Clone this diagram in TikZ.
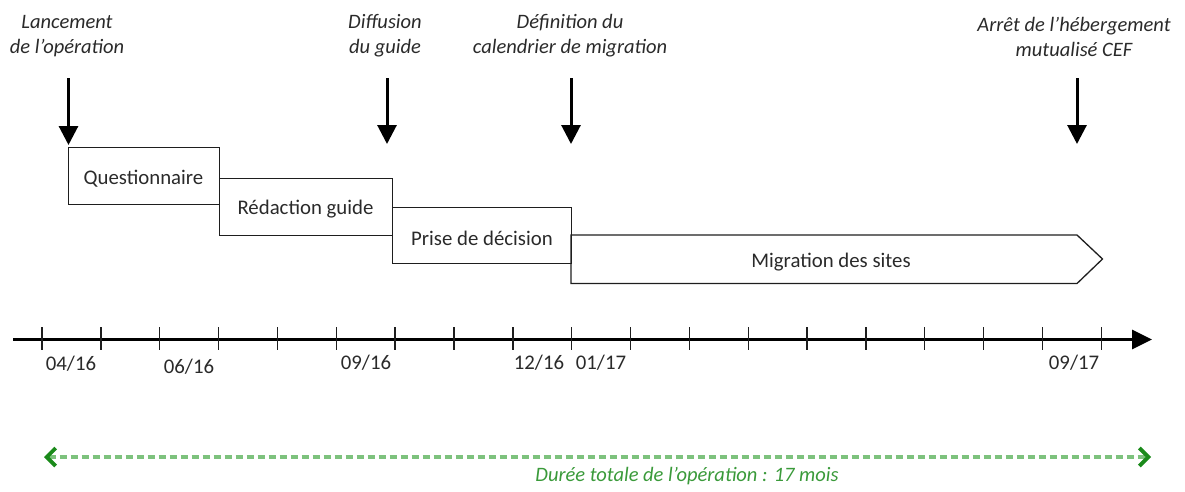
\documentclass[tikz,border=0pt]{standalone}
\usepackage{fontspec}
\setmainfont{Carlito}
\usetikzlibrary{arrows.meta}
\definecolor{ink}{HTML}{1E1E1E}
\definecolor{txt}{HTML}{2A2A2A}
\definecolor{dashgreen}{HTML}{7DC27D}
\definecolor{tipgreen}{HTML}{1A8A1A}
\definecolor{labgreen}{HTML}{3A9A3A}
\newcommand{\bodyfont}{\fontsize{20.8}{25}\selectfont}
\tikzset{
  phase/.style={draw=ink, line width=1.3pt, rectangle, inner sep=0pt, anchor=north west},
  phasetext/.style={text=txt, font=\bodyfont, inner sep=0pt},
  milestone/.style={align=center, text=txt, font=\fontsize{20.5}{25}\selectfont\itshape, inner sep=0pt},
  datelab/.style={text=txt, font=\bodyfont, inner sep=0pt},
  downarrow/.style={draw=black, line width=3pt, -{Triangle[width=19pt,length=19pt]}},
  tickmark/.style={draw=ink, line width=1.4pt},
  axisline/.style={draw=black, line width=3.3pt, -{Triangle[width=19pt,length=20pt]}},
  durationline/.style={draw=dashgreen, line width=4pt, dash pattern=on 7pt off 4pt,
     {Straight Barb[length=9pt,width=18pt,line width=3.8pt,color=tipgreen]}-{Straight Barb[length=9pt,width=18pt,line width=3.8pt,color=tipgreen]}}
}
\begin{document}
\begin{tikzpicture}[x=1pt,y=-1pt]
\useasboundingbox (0,0) rectangle (1185,491);

% milestone labels
\node[milestone] (m1) at (67,36) {Lancement\\de l’opération};
\node[milestone] (m2) at (385,36) {Diffusion\\du guide};
\node[milestone] (m3) at (570,36) {Définition du\\calendrier de migration};
\node[milestone] (m4) at (1074,37) {Arrêt de l’hébergement\\mutualisé CEF};

% arrow coordinates
\coordinate (a1s) at (68.5,78);  \coordinate (a1e) at (68.5,145);
\coordinate (a2s) at (387,78);   \coordinate (a2e) at (387,144);
\coordinate (a3s) at (571,78);   \coordinate (a3e) at (571,144);
\coordinate (a4s) at (1077,78);  \coordinate (a4e) at (1077,144);
\draw[downarrow] (a1s) -- (a1e);
\draw[downarrow] (a2s) -- (a2e);
\draw[downarrow] (a3s) -- (a3e);
\draw[downarrow] (a4s) -- (a4e);

% phases
\node[phase, minimum width=151pt, minimum height=57pt] (p1) at (68,147) {};
\node[phasetext] (p1t) at (143.5,179) {Questionnaire};
\node[phase, minimum width=173pt, minimum height=57pt] (p2) at (219,178) {};
\node[phasetext] (p2t) at (305.5,209) {Rédaction guide};
\node[phase, minimum width=179pt, minimum height=56pt] (p3) at (392,207) {};
\node[phasetext] (p3t) at (482,238) {Prise de décision};
\draw[draw=ink, line width=1.3pt, line join=miter] (571,235) -- (1077,235) -- (1102.5,259) -- (1077,283.5) -- (571,283.5) -- cycle;
\node[phasetext] (p4t) at (831,262) {Migration des sites};

% time axis
\coordinate (ax0) at (13,339.5);
\coordinate (ax1) at (1152,339.5);
\draw[axisline] (ax0) -- (ax1);
\foreach \k in {0,...,18}{
  \draw[tickmark] ({42+58.85*\k},327) -- ({42+58.85*\k},350);
}
\node[datelab] (d1) at (71,364) {04/16};
\node[datelab] (d2) at (189,367) {06/16};
\node[datelab] (d3) at (366,363) {09/16};
\node[datelab] (d4) at (539,363) {12/16};
\node[datelab] (d5) at (601,363) {01/17};
\node[datelab] (d6) at (1074,363) {09/17};

% total duration
\coordinate (g0) at (44,457);
\coordinate (g1) at (1151,457);
\draw[durationline] (g0) -- (g1);
\node[text=labgreen, font=\fontsize{20.5}{25}\selectfont\itshape, inner sep=0pt] (dur) at (687,476) {Durée totale de l’opération : 17 mois};
\end{tikzpicture}
\end{document}
